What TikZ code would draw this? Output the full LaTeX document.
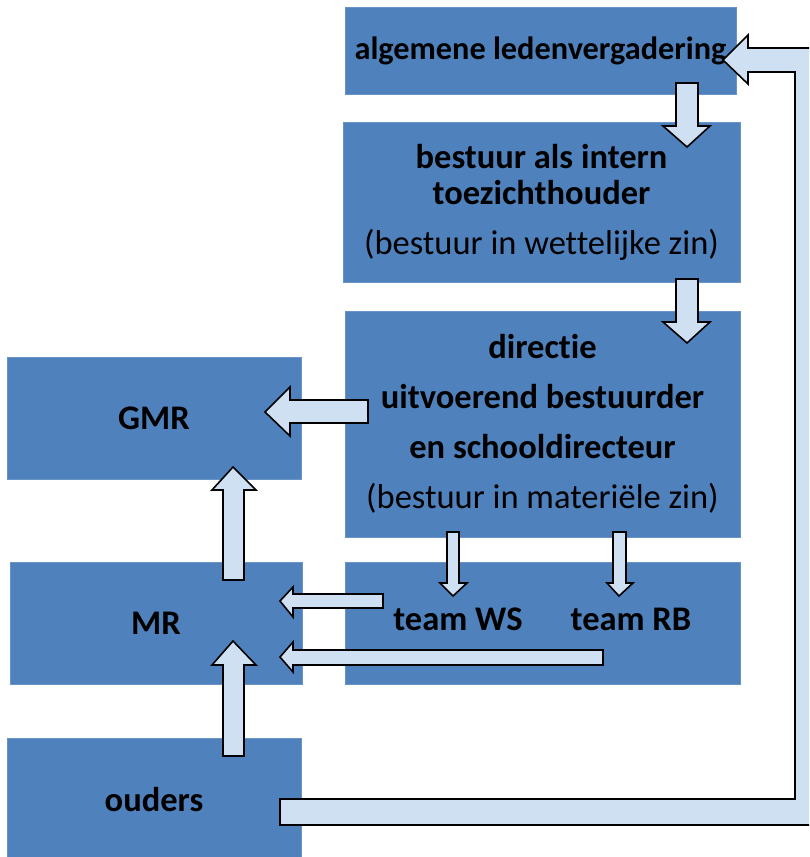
\documentclass[tikz,border=0pt]{standalone}
\usepackage{fontspec}
\setmainfont{Carlito}[Ligatures=NoCommon]
\definecolor{boxblue}{RGB}{79,129,189}
\definecolor{arrowblue}{RGB}{206,224,242}

\begin{document}
\begin{tikzpicture}[x=1pt, y=-1pt,
  box/.style={fill=boxblue, draw=boxblue!85!white, inner sep=0pt, outer sep=0pt,
    align=center, font=\fontsize{34.5}{50}\selectfont\bfseries},
  lbl/.style={inner sep=0pt, font=\fontsize{34.5}{36}\selectfont\bfseries},
  blockarrow/.style={fill=arrowblue, draw=black, line width=1.6pt, line join=miter}]

\useasboundingbox (0,0) rectangle (809,857) ;
\clip (0,0) rectangle (809,857) ;

% right column
\node[box, minimum width=391, minimum height=87, font=\fontsize{32.3}{40}\selectfont\bfseries]
  (alv) at (540.5,51) {algemene ledenvergadering} ;
\node[box, minimum width=397, minimum height=160, font=\fontsize{34.5}{36}\selectfont\bfseries]
  (bestuur) at (541.5,202)
  {bestuur als intern\\toezichthouder\\[14pt]\mdseries(bestuur in wettelijke zin)} ;
\node[box, minimum width=395, minimum height=226] (directie) at (542.5,424)
  {directie\\uitvoerend bestuurder\\en schooldirecteur\\\mdseries(bestuur in materiële zin)} ;
\node[box, minimum width=395, minimum height=122] (teams) at (542.5,623) {} ;
\path
(458,619) node[lbl] (ws) {team WS}
(631,619) node[lbl] (rb) {team RB}
;

% left column
\node[box, minimum width=294, minimum height=122] (gmr) at (154,418) {GMR} ;
\node[box, minimum width=292, minimum height=122] (mr) at (156,623) {MR} ;
\node[box, minimum width=294, minimum height=124] (ouders) at (154,800) {ouders} ;

% arrows down the right column
\draw[blockarrow] (676,83) -- (698,83) -- (698,126) -- (710,126) -- (687,147)
  -- (663,126) -- (676,126) -- cycle ;
\draw[blockarrow] (676,279) -- (698,279) -- (698,322) -- (710,322) -- (687,343)
  -- (663,322) -- (676,322) -- cycle ;

% arrows into the teams
\draw[blockarrow] (447,532) -- (459,532) -- (459,583) -- (467,583) -- (453,596)
  -- (440,583) -- (447,583) -- cycle ;
\draw[blockarrow] (613,532) -- (626,532) -- (626,583) -- (633,583) -- (619,596)
  -- (607,583) -- (613,583) -- cycle ;

% directie to GMR
\draw[blockarrow] (368,400) -- (368,423) -- (290,423) -- (290,436) -- (265,412)
  -- (290,387) -- (290,400) -- cycle ;

% teams to MR
\draw[blockarrow] (383,594) -- (383,608) -- (293,608) -- (293,617) -- (280,601)
  -- (293,587) -- (293,594) -- cycle ;
\draw[blockarrow] (603,650) -- (603,665) -- (293,665) -- (293,672) -- (280,657)
  -- (293,642) -- (293,650) -- cycle ;

% up the left column
\draw[blockarrow] (223,580) -- (223,490) -- (212,490) -- (233,467) -- (256,490)
  -- (244,490) -- (244,580) -- cycle ;
\draw[blockarrow] (223,756) -- (223,665) -- (212,665) -- (233,641) -- (256,665)
  -- (244,665) -- (244,756) -- cycle ;

% ouders back to the ledenvergadering
\draw[blockarrow] (280,799) -- (795,799) -- (795,72) -- (748,72) -- (748,84)
  -- (723,60) -- (748,35) -- (748,48) -- (825,48) -- (825,825) -- (280,825) -- cycle ;

\end{tikzpicture}
\end{document}
